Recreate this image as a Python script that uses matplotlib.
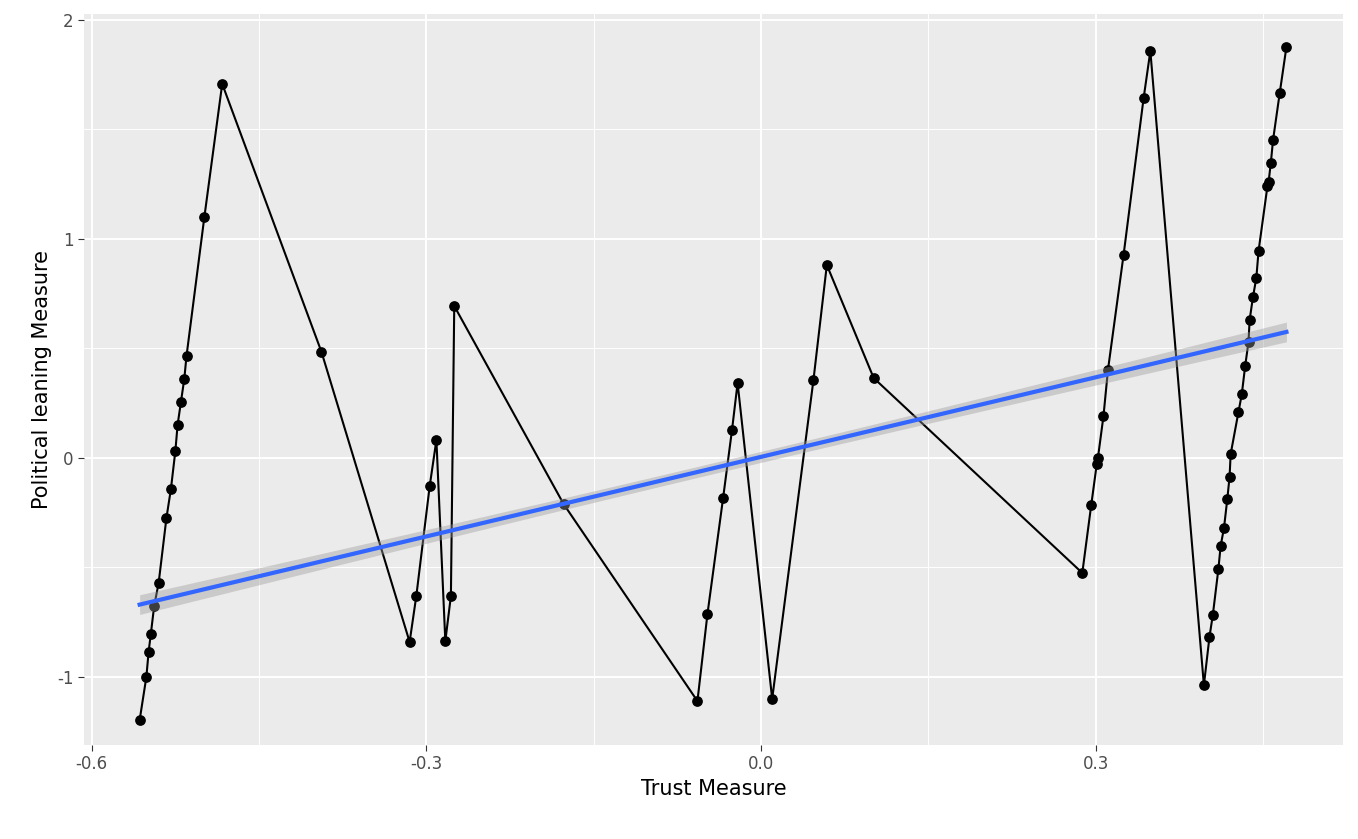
import numpy as np
import matplotlib
matplotlib.use('Agg')
import matplotlib.pyplot as plt

trust = [-0.557, -0.551, -0.549, -0.547, -0.544, -0.540, -0.533, -0.529, -0.525, -0.523,
         -0.520, -0.517, -0.515, -0.499, -0.483, -0.394, -0.315, -0.309, -0.297, -0.291,
         -0.283, -0.278, -0.275, -0.177, -0.057, -0.048, -0.034, -0.026, -0.021, 0.010,
         0.047, 0.059, 0.101, 0.288, 0.296, 0.301, 0.302, 0.307, 0.311, 0.325,
         0.343, 0.349, 0.397, 0.402, 0.405, 0.410, 0.412, 0.415, 0.418, 0.420,
         0.421, 0.428, 0.431, 0.434, 0.437, 0.438, 0.441, 0.444, 0.446, 0.454,
         0.455, 0.457, 0.459, 0.465, 0.471]
political = [-1.196, -1.0, -0.886, -0.804, -0.676, -0.571, -0.274, -0.142, 0.032, 0.151,
             0.256, 0.361, 0.466, 1.100, 1.708, 0.484, -0.840, -0.630, -0.128, 0.082,
             -0.836, -0.630, 0.694, -0.210, -1.11, -0.712, -0.183, 0.128, 0.342, -1.100,
             0.356, 0.881, 0.365, -0.525, -0.215, -0.027, 0.0, 0.192, 0.402, 0.927,
             1.644, 1.858, -1.037, -0.817, -0.717, -0.507, -0.402, -0.320, -0.187, -0.087,
             0.018, 0.210, 0.292, 0.420, 0.530, 0.630, 0.735, 0.822, 0.945, 1.242,
             1.260, 1.347, 1.452, 1.667, 1.877]

# smoother (fit on the full underlying data)
fit_intercept = 0.005
fit_slope = 1.211
band_mid = 0.025   # half-width of CI at centre
band_end = 0.045   # half-width of CI at the ends

x = np.array(trust); y = np.array(political)
xs = np.linspace(x.min(), x.max(), 100)
fit = fit_intercept + fit_slope * xs
xc = (x.min() + x.max()) / 2
rel = (xs - xc) / (x.max() - xc)
hw = np.sqrt(band_mid**2 + (band_end**2 - band_mid**2) * rel**2)

fig = plt.figure(figsize=(13.58, 8.39), dpi=100)
ax = fig.add_axes([84/1358, 1 - 745/839, (1343-84)/1358, (745-14)/839])
ax.set_facecolor('#EBEBEB')
for sp in ax.spines.values():
    sp.set_visible(False)
ax.set_xlim(-0.6069, 0.5217)
ax.set_ylim(-1.3105, 2.027)
ax.set_xticks([-0.6, -0.3, 0.0, 0.3])
ax.set_xticklabels(['-0.6', '-0.3', '0.0', '0.3'])
ax.set_yticks([-1, 0, 1, 2])
ax.set_yticklabels(['-1', '0', '1', '2'])
ax.set_xticks([-0.45, -0.15, 0.15, 0.45], minor=True)
ax.set_yticks([-0.5, 0.5, 1.5], minor=True)
ax.grid(which='major', color='white', linewidth=1.4)
ax.grid(which='minor', color='white', linewidth=0.7)
ax.set_axisbelow(True)
ax.tick_params(which='major', length=4, color='#333333', labelsize=12, labelcolor='#4D4D4D')
ax.tick_params(which='minor', length=0)

ax.plot(x, y, color='black', linewidth=1.5, zorder=3)
ax.scatter(x, y, s=45, color='black', zorder=4)
ax.fill_between(xs, fit - hw, fit + hw, color='#999999', alpha=0.4, linewidth=0, zorder=5)
ax.plot(xs, fit, color='#3366FF', linewidth=3, zorder=6)

ax.set_xlabel('Trust Measure', fontsize=15)
ax.set_ylabel('Political leaning Measure', fontsize=15)

fig.savefig('out.png', dpi=100)
